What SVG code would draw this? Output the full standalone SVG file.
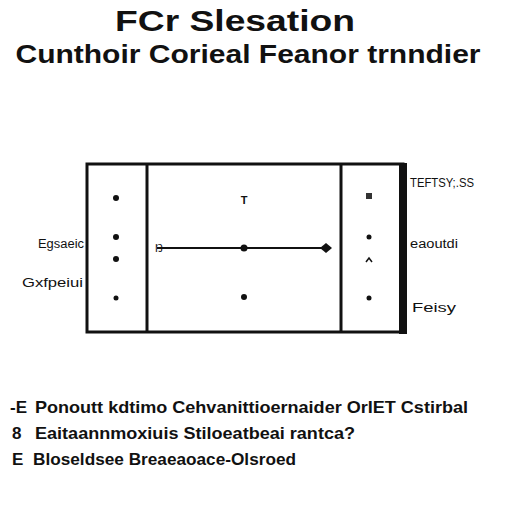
<svg xmlns="http://www.w3.org/2000/svg" width="512" height="512" viewBox="0 0 512 512">
<style>
.t{font-family:"Liberation Sans",Arial,sans-serif;fill:#111}
.h{font-size:29px;font-weight:bold}
.h2{font-size:25px;font-weight:bold}
.lb{font-size:12px}
.ls{font-size:17px;font-weight:bold}
.box{fill:none;stroke:#111;stroke-width:3}
.dot{fill:#111}
</style>
<rect width="512" height="512" fill="#fff"/>
<text class="t h" x="235" y="31" text-anchor="middle" textLength="240" lengthAdjust="spacingAndGlyphs">FCr Slesation</text>
<text class="t h2" x="248" y="63" text-anchor="middle" textLength="465" lengthAdjust="spacingAndGlyphs">Cunthoir Corieal Feanor trnndier</text>
<g id="outer">
<rect class="box" x="87" y="164" width="316" height="168"/>
<rect x="399" y="163" width="8" height="171" fill="#111"/>
</g>
<g id="left-col">
<line x1="147" y1="164" x2="147" y2="332" stroke="#111" stroke-width="3"/>
<circle class="dot" cx="116" cy="198" r="3"/>
<circle class="dot" cx="116" cy="237" r="3"/>
<circle class="dot" cx="116" cy="259" r="3"/>
<circle class="dot" cx="116" cy="298" r="2.5"/>
</g>
<g id="center">
<text class="t" x="244" y="204" font-size="11" font-weight="bold" text-anchor="middle">T</text>
<circle class="dot" cx="244" cy="297" r="3"/>
</g>
<g id="right-col">
<line x1="341" y1="164" x2="341" y2="332" stroke="#111" stroke-width="3"/>
<rect x="366" y="193" width="6" height="6" fill="#333"/>
<circle class="dot" cx="369" cy="237" r="2.5"/>
<path d="M366 262 L369 258 L372 262" fill="none" stroke="#111" stroke-width="1.5"/>
<circle class="dot" cx="369" cy="298" r="2.5"/>
</g>
<g id="connectors">
<line x1="157" y1="248" x2="330" y2="248" stroke="#111" stroke-width="2"/>
<circle class="dot" cx="244" cy="248" r="3.5"/>
<path d="M320 248 L326 243 L332 248 L326 253 Z" fill="#111"/>
<text class="t" x="155" y="252" font-size="11">Ŋ</text>
</g>
<g id="labels">
<text class="t lb" x="38" y="248" textLength="46" lengthAdjust="spacingAndGlyphs">Egsaeic</text>
<text class="t lb" x="22" y="287" textLength="61" lengthAdjust="spacingAndGlyphs">Gxfpeiui</text>
<text class="t lb" x="410" y="187" textLength="64" lengthAdjust="spacingAndGlyphs">TEFTSY;.SS</text>
<text class="t lb" x="410" y="248" textLength="48" lengthAdjust="spacingAndGlyphs">eaoutdi</text>
<text class="t lb" x="412" y="312" textLength="44" lengthAdjust="spacingAndGlyphs">Feisy</text>
</g>
<g id="list">
<text class="t ls" x="10" y="413" font-weight="normal">-E</text>
<text class="t ls" x="35" y="413" textLength="433" lengthAdjust="spacingAndGlyphs">Ponoutt kdtimo Cehvanittioernaider OrIET Cstirbal</text>
<text class="t ls" x="12" y="439" font-size="15" font-weight="normal">8</text>
<text class="t ls" x="35" y="439" textLength="320" lengthAdjust="spacingAndGlyphs">Eaitaannmoxiuis Stiloeatbeai rantca?</text>
<text class="t ls" x="12" y="465" font-size="15" font-weight="normal">E</text>
<text class="t ls" x="33" y="465" textLength="263" lengthAdjust="spacingAndGlyphs">Bloseldsee Breaeaoace-Olsroed</text>
</g>
</svg>
